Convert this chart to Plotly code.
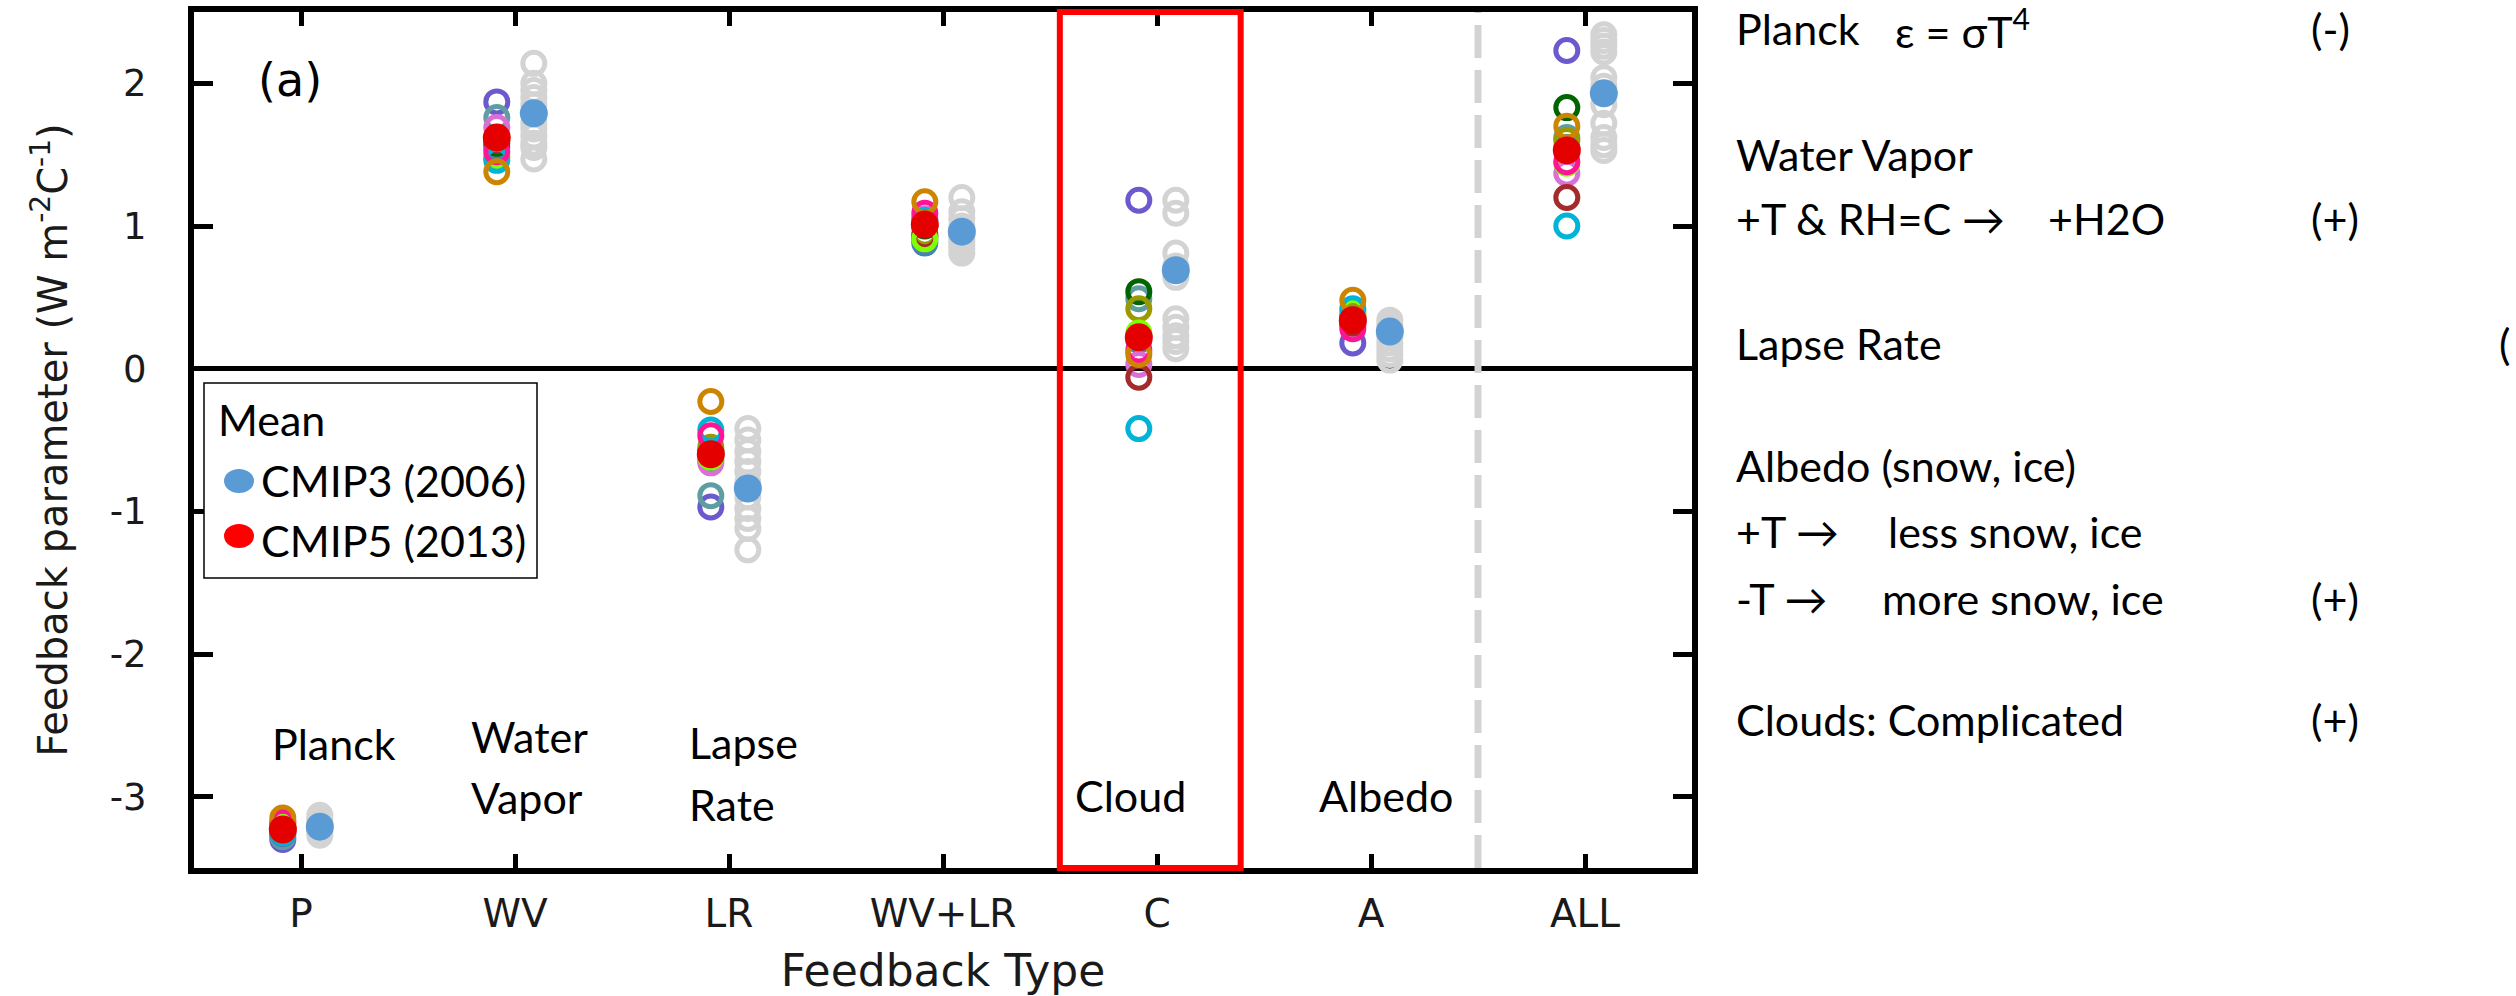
import plotly.graph_objects as go

# ---------------- data ----------------
categories = ["P", "WV", "LR", "WV+LR", "C", "A", "ALL"]
y_tick_vals = [-3, -2, -1, 0, 1, 2]
y_tick_text = ["-3", "-2", "-1", "0", "1", "2"]

# CMIP5 individual models (one value per category, order as `categories`)
cmip5_purple     = [-3.30, 1.87, -0.97, 0.93, 1.18, 0.18, 2.23]
cmip5_teal       = [-3.28, 1.76, -0.89, 0.90, 0.49, 0.36, 1.62]
cmip5_steelblue  = [-3.26, 1.55, -0.64, 0.88, 0.20, 0.35, 1.55]
cmip5_darkgreen  = [-3.23, 1.58, -0.58, 1.00, 0.54, 0.33, 1.83]
cmip5_olive      = [-3.20, 1.48, -0.55, 0.95, 0.42, 0.38, 1.60]
cmip5_orchid     = [-3.24, 1.69, -0.66, 1.05, 0.03, 0.30, 1.37]
cmip5_brown      = [-3.22, 1.60, -0.60, 0.93, -0.06, 0.32, 1.20]
cmip5_chartreuse = [-3.21, 1.49, -0.62, 0.91, 0.25, 0.40, 1.44]
cmip5_cyan       = [-3.25, 1.46, -0.43, 1.04, -0.42, 0.42, 1.00]
cmip5_deeppink   = [-3.18, 1.52, -0.47, 1.09, 0.13, 0.28, 1.45]
cmip5_orange     = [-3.15, 1.38, -0.23, 1.17, 0.10, 0.48, 1.70]

cmip5_models = [
    ("#6A5ACD", cmip5_purple),
    ("#5F9EA0", cmip5_teal),
    ("#4682B4", cmip5_steelblue),
    ("#006400", cmip5_darkgreen),
    ("#9A9A00", cmip5_olive),
    ("#DA70D6", cmip5_orchid),
    ("#A52A2A", cmip5_brown),
    ("#7FFF00", cmip5_chartreuse),
    ("#00B4D8", cmip5_cyan),
    ("#FF1493", cmip5_deeppink),
    ("#CD8500", cmip5_orange),
]

# CMIP3 individual models (grey), per category
cmip3_P     = [-3.13, -3.16, -3.19, -3.21, -3.23, -3.25, -3.27]
cmip3_WV    = [2.14, 2.00, 1.95, 1.90, 1.85, 1.72, 1.68, 1.63, 1.58, 1.55, 1.47]
cmip3_LR    = [-0.42, -0.50, -0.58, -0.65, -0.72, -0.80, -0.90, -0.98, -1.05, -1.12, -1.27]
cmip3_WVLR  = [1.20, 1.10, 1.05, 1.00, 0.97, 0.93, 0.90, 0.87, 0.84, 0.81]
cmip3_C     = [1.18, 1.09, 0.81, 0.72, 0.64, 0.35, 0.29, 0.23, 0.19, 0.14]
cmip3_A     = [0.34, 0.31, 0.28, 0.25, 0.22, 0.18, 0.14, 0.10, 0.06]
cmip3_ALL   = [2.34, 2.30, 2.26, 2.22, 2.04, 1.98, 1.85, 1.72, 1.62, 1.57, 1.53]
cmip3_by_cat = [cmip3_P, cmip3_WV, cmip3_LR, cmip3_WVLR, cmip3_C, cmip3_A, cmip3_ALL]

# ensemble means
cmip3_mean = [-3.21, 1.79, -0.84, 0.96, 0.69, 0.26, 1.93]
cmip5_mean = [-3.23, 1.62, -0.60, 1.01, 0.22, 0.34, 1.53]

# ---------------- styling / layout helpers ----------------
W, H = 2516, 996
PL, PR, PT, PB = 194, 1692, 12, 868   # plot area in pixels
OFF5, OFF3 = -0.085, 0.088            # horizontal offsets of the two ensembles
AX_FONT = "DejaVu Sans"
TXT_FONT = "Lato"
GREY = "#D3D3D3"
BLUE = "#5B9BD5"
RED_MEAN = "#E50000"


def px_x(px):
    return (px - PL) / (PR - PL)


def px_y(py):
    return (PB - py) / (PB - PT)


xs = list(range(len(categories)))
fig = go.Figure()

# CMIP3 grey open circles
gx, gy = [], []
for i, vals in enumerate(cmip3_by_cat):
    gx += [i + OFF3] * len(vals)
    gy += vals
fig.add_trace(go.Scatter(
    x=gx, y=gy, mode="markers", showlegend=False, hoverinfo="y",
    marker=dict(symbol="circle-open", size=22, color=GREY, line=dict(width=5, color=GREY)),
))

# CMIP5 coloured open circles
for color, vals in cmip5_models:
    fig.add_trace(go.Scatter(
        x=[i + OFF5 for i in xs], y=vals, mode="markers", showlegend=False, hoverinfo="y",
        marker=dict(symbol="circle-open", size=22, color=color, line=dict(width=5, color=color)),
    ))

# means
fig.add_trace(go.Scatter(
    x=[i + OFF3 for i in xs], y=cmip3_mean, mode="markers", name="CMIP3 (2006)", showlegend=False,
    marker=dict(symbol="circle", size=28, color=BLUE, line=dict(width=0)),
))
fig.add_trace(go.Scatter(
    x=[i + OFF5 for i in xs], y=cmip5_mean, mode="markers", name="CMIP5 (2013)", showlegend=False,
    marker=dict(symbol="circle", size=28, color=RED_MEAN, line=dict(width=0)),
))

shapes = [
    # red box around cloud feedback
    dict(type="rect", xref="x", yref="paper", x0=3.546, x1=4.391, y0=0, y1=1,
         line=dict(color="#FF0000", width=6), layer="above"),
    # dashed separator before ALL
    dict(type="line", xref="x", yref="paper", x0=5.5, x1=5.5, y0=0, y1=1,
         line=dict(color=GREY, width=7, dash="33px,12px"), layer="above"),
    # legend box
    dict(type="rect", xref="paper", yref="paper", x0=px_x(204), x1=px_x(537),
         y0=px_y(578), y1=px_y(383), line=dict(color="black", width=1.5),
         fillcolor="white", layer="above"),
    dict(type="circle", xref="paper", yref="paper", xsizemode="pixel", ysizemode="pixel",
         xanchor=px_x(239), yanchor=px_y(481), x0=-15, x1=15, y0=-12, y1=12,
         fillcolor=BLUE, line=dict(width=0), layer="above"),
    dict(type="circle", xref="paper", yref="paper", xsizemode="pixel", ysizemode="pixel",
         xanchor=px_x(239), yanchor=px_y(536), x0=-15, x1=15, y0=-12, y1=12,
         fillcolor="#FF0000", line=dict(width=0), layer="above"),
]

ann = []


def add_text(text, px, py, size=43, font=TXT_FONT, anchor="left"):
    ann.append(dict(text=text, x=px_x(px), y=px_y(py), xref="paper", yref="paper",
                    xanchor=anchor, yanchor="middle", showarrow=False,
                    font=dict(family=font, size=size, color="black")))


# panel label
add_text("(a)", 290, 80, size=46, font=AX_FONT, anchor="center")
# legend text
add_text("Mean", 216, 419)
add_text("CMIP3 (2006)", 259, 480)
add_text("CMIP5 (2013)", 259, 540)
# in-plot category names
add_text("Planck", 270, 743)
add_text("Water", 469, 736)
add_text("Vapor", 469, 797)
add_text("Lapse", 687, 742)
add_text("Rate", 687, 804)
add_text("Cloud", 1073, 795)
add_text("Albedo", 1317, 795)
# right-hand notes
add_text("Planck", 1734, 29)
add_text("ε = σT<sup>4</sup>", 1893, 29)
add_text("(-)", 2309, 29)
add_text("Water Vapor", 1734, 154)
add_text("+T & RH=C →", 1734, 218)
add_text("+H2O", 2046, 218)
add_text("(+)", 2309, 218)
add_text("Lapse Rate", 1734, 343)
add_text("(", 2497, 343)
add_text("Albedo (snow, ice)", 1734, 465)
add_text("+T →", 1734, 531)
add_text("less snow, ice", 1886, 531)
add_text("-T →", 1734, 598)
add_text("more snow, ice", 1880, 598)
add_text("(+)", 2309, 598)
add_text("Clouds: Complicated", 1734, 719)
add_text("(+)", 2309, 719)

fig.update_layout(
    width=W, height=H,
    margin=dict(l=PL, r=W - PR, t=PT, b=H - PB, pad=0),
    paper_bgcolor="white", plot_bgcolor="white",
    shapes=shapes, annotations=ann, showlegend=False,
    xaxis=dict(
        range=[-0.5, 6.5], tickmode="array", tickvals=xs, ticktext=categories,
        showgrid=False, zeroline=False, showline=True, linecolor="black", linewidth=6,
        mirror="ticks", ticks="inside", ticklen=14, tickwidth=5, tickcolor="black",
        tickfont=dict(family=AX_FONT, size=39, color="#1a1a1a"), ticklabelstandoff=6,
        title=dict(text="Feedback Type", font=dict(family=AX_FONT, size=44, color="#1a1a1a"), standoff=36),
        automargin=False,
    ),
    yaxis=dict(
        range=[-3.5, 2.5], tickmode="array", tickvals=y_tick_vals, ticktext=y_tick_text,
        showgrid=False, zeroline=True, zerolinecolor="black", zerolinewidth=5,
        showline=True, linecolor="black", linewidth=6,
        mirror="ticks", ticks="inside", ticklen=19, tickwidth=5, tickcolor="black",
        tickfont=dict(family=AX_FONT, size=37, color="#1a1a1a"), ticklabelstandoff=34,
        title=dict(text="Feedback parameter (W m<sup>-2</sup>C<sup>-1</sup>)",
                   font=dict(family=AX_FONT, size=40, color="#1a1a1a"), standoff=32),
        automargin=False,
    ),
)

fig.write_html("out.html")
